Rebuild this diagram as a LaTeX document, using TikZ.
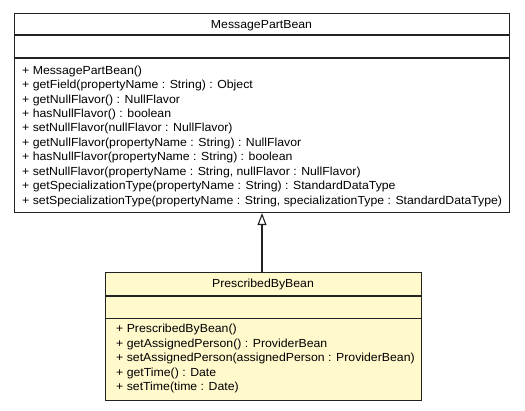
\documentclass[tikz,border=0pt]{standalone}
\usepackage{fontspec}
\setmainfont[FakeStretch=1.05]{Liberation Sans}
\usetikzlibrary{arrows.meta}
\definecolor{boxline}{HTML}{222222}
\definecolor{classfill}{HTML}{FFF9CC}
\tikzset{
  classbox/.style={draw=boxline, line width=1.1pt, inner sep=0pt, anchor=north west},
  sepline/.style={draw=boxline, line width=1.1pt},
  member/.style={anchor=base west, inner sep=0pt, font=\fontsize{11.7}{14}\selectfont},
  cname/.style={anchor=base, inner sep=0pt, font=\fontsize{11.7}{14}\selectfont},
  inherit/.style={draw=boxline, line width=1.1pt, -{Triangle[open, length=12pt, width=9pt, line width=1.1pt]}}
}
\begin{document}
\begin{tikzpicture}[x=1pt,y=-1pt]
\useasboundingbox (0,0) rectangle (525,411);
% MessagePartBean
\node[classbox, fill=white, minimum width=495pt, minimum height=199pt] (mpb) at (14,13) {};
\draw[sepline] (14,35) -- (509,35);
\draw[sepline] (14,58) -- (509,58);
\node[cname] (mpbname) at (261.5,28.2) {MessagePartBean};
\foreach \t [count=\i from 0] in {
  {+ MessagePartBean()},
  {+ getField(propertyName : String) : Object},
  {+ getNullFlavor() : NullFlavor},
  {+ hasNullFlavor() : boolean},
  {+ setNullFlavor(nullFlavor : NullFlavor)},
  {+ getNullFlavor(propertyName : String) : NullFlavor},
  {+ hasNullFlavor(propertyName : String) : boolean},
  {+ setNullFlavor(propertyName : String, nullFlavor : NullFlavor)},
  {+ getSpecializationType(propertyName : String) : StandardDataType},
  {+ setSpecializationType(propertyName : String, specializationType : StandardDataType)}
}{
  \node[member] (mpbop\i) at (22,{74.2+14.45*\i}) {\t};
}
% PrescribedByBean
\node[classbox, fill=classfill, minimum width=316pt, minimum height=128pt] (pbb) at (105,272) {};
\draw[sepline] (105,296) -- (421,296);
\draw[sepline] (105,318.5) -- (421,318.5);
\node[cname] (pbbname) at (263,287.2) {PrescribedByBean};
\foreach \t [count=\i from 0] in {
  {+ PrescribedByBean()},
  {+ getAssignedPerson() : ProviderBean},
  {+ setAssignedPerson(assignedPerson : ProviderBean)},
  {+ getTime() : Date},
  {+ setTime(time : Date)}
}{
  \node[member] (pbbop\i) at (116,{332.5+14.6*\i}) {\t};
}
% generalization
\coordinate (gtop) at (262,0);
\draw[inherit] (gtop |- pbb.north) -- (gtop |- mpb.south);
\end{tikzpicture}
\end{document}
